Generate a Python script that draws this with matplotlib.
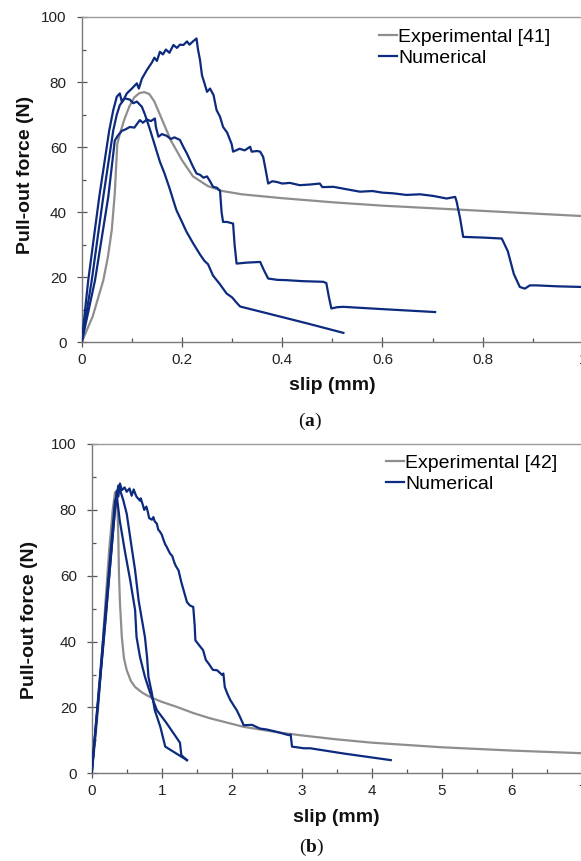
import numpy as np
import matplotlib
matplotlib.use("Agg")
import matplotlib.pyplot as plt
from matplotlib.ticker import MultipleLocator

plt.rcParams['font.family'] = ['Liberation Sans', 'DejaVu Sans']
plt.rcParams['mathtext.fontset'] = 'custom'
plt.rcParams['mathtext.rm'] = 'Liberation Serif'
plt.rcParams['mathtext.bf'] = 'Liberation Serif:bold'

# ---------------- Panel (a) data: slip (mm), force (N) ----------------
a_exp_label = "Experimental [41]"
a_exp = [(0, 0), (0.022, 8), (0.043, 19), (0.052, 26), (0.060, 34.5), (0.066, 45.8),
         (0.069, 55), (0.071, 61), (0.076, 64), (0.085, 68.5), (0.095, 72.5),
         (0.105, 75.3), (0.115, 76.6), (0.125, 76.9), (0.135, 76.3), (0.145, 74),
         (0.156, 70), (0.178, 62), (0.200, 56), (0.222, 51), (0.252, 48),
         (0.281, 46.5), (0.319, 45.5), (0.400, 44.3), (0.504, 43), (0.600, 42),
         (0.726, 41), (0.874, 39.8), (1.0, 38.8)]

a_num1 = [(0, 0), (0.013, 19), (0.035, 44.7), (0.055, 65.2), (0.063, 71.4), (0.070, 75.5),
          (0.076, 76.5), (0.080, 74), (0.085, 75), (0.090, 76.5), (0.100, 78),
          (0.110, 79.6), (0.114, 78), (0.120, 81), (0.130, 83.7), (0.140, 86),
          (0.145, 87.5), (0.150, 86.5), (0.156, 89.3), (0.162, 88.5), (0.168, 90),
          (0.175, 89), (0.183, 91.4), (0.190, 90.5), (0.196, 91.5), (0.203, 91.4),
          (0.210, 92.5), (0.215, 91.5), (0.222, 92.5), (0.229, 93.4), (0.232, 90),
          (0.236, 86.8), (0.240, 82), (0.243, 80.6), (0.250, 77), (0.256, 78),
          (0.263, 76), (0.269, 71.4), (0.276, 69.3), (0.282, 66.2), (0.290, 64.5),
          (0.299, 61), (0.302, 58.6), (0.315, 59.5), (0.325, 59), (0.336, 60.1),
          (0.339, 58.6), (0.350, 58.8), (0.356, 58.6), (0.362, 57), (0.367, 53),
          (0.372, 48.8), (0.380, 49.5), (0.389, 49.3), (0.400, 48.8), (0.415, 49),
          (0.435, 48.3), (0.455, 48.5), (0.475, 48.8), (0.480, 47.7), (0.502, 47.8),
          (0.530, 47), (0.555, 46.3), (0.580, 46.5), (0.600, 46), (0.621, 45.8),
          (0.648, 45.3), (0.675, 45.5), (0.701, 45), (0.728, 44.2), (0.745, 44.7),
          (0.748, 43.2), (0.755, 38), (0.761, 32.4), (0.800, 32.2), (0.838, 31.9),
          (0.850, 28), (0.862, 21), (0.874, 17), (0.884, 16.5), (0.894, 17.5),
          (0.907, 17.5), (0.950, 17.2), (1.0, 17)]

a_num2 = [(0, 0), (0.0265, 19), (0.053, 44.7), (0.066, 62), (0.072, 63.5), (0.080, 65),
          (0.088, 65.5), (0.096, 66.2), (0.105, 66), (0.116, 68.3), (0.122, 67.5),
          (0.130, 68.5), (0.138, 68), (0.146, 68.8), (0.148, 66.2), (0.153, 63.2),
          (0.160, 64), (0.169, 63.5), (0.178, 62.5), (0.185, 63), (0.196, 62.2),
          (0.203, 60), (0.210, 58), (0.216, 56), (0.222, 54), (0.229, 51.9),
          (0.236, 51.5), (0.243, 50.6), (0.250, 51), (0.256, 49.5), (0.262, 47.8),
          (0.270, 47.5), (0.276, 46.5), (0.279, 40), (0.282, 37), (0.290, 37),
          (0.302, 36.5), (0.305, 30), (0.309, 24.2), (0.330, 24.5), (0.356, 24.7),
          (0.364, 22), (0.372, 19.6), (0.390, 19.2), (0.409, 19.1), (0.440, 18.8),
          (0.482, 18.6), (0.488, 18.2), (0.493, 14), (0.498, 10.4), (0.510, 10.8),
          (0.522, 10.9), (0.600, 10.2), (0.705, 9.3)]

a_num3 = [(0, 0), (0.020, 19), (0.043, 44.7), (0.063, 65.2), (0.070, 70), (0.076, 72.9),
          (0.086, 75), (0.096, 74.6), (0.103, 73.5), (0.110, 74), (0.120, 72.4),
          (0.125, 70.5), (0.130, 68.3), (0.136, 65.5), (0.143, 62), (0.150, 58.5),
          (0.156, 55.5), (0.165, 52), (0.176, 47), (0.183, 43.5), (0.189, 40.6),
          (0.200, 37), (0.209, 34), (0.222, 30.5), (0.236, 27), (0.245, 25),
          (0.252, 24), (0.262, 20.5), (0.275, 18), (0.289, 15), (0.300, 13.8),
          (0.310, 12), (0.316, 11), (0.360, 9.3), (0.450, 5.8), (0.522, 2.9)]

# ---------------- Panel (b) data ----------------
b_exp_label = "Experimental [42]"
b_exp = [(0, 0), (0.05, 10), (0.10, 22), (0.15, 37), (0.20, 53), (0.25, 68), (0.30, 80),
         (0.333, 85.3), (0.355, 84), (0.37, 79), (0.38, 71.7), (0.39, 60), (0.404, 51.5),
         (0.43, 41.4), (0.46, 35), (0.50, 31.3), (0.56, 28), (0.62, 26.2), (0.72, 24.5),
         (0.83, 23.2), (1.0, 21.7), (1.21, 20.2), (1.45, 18.3), (1.69, 16.7),
         (2.17, 14.1), (2.64, 12.5), (3.0, 11.5), (3.5, 10.3), (4.0, 9.3), (5.0, 7.9),
         (6.0, 6.9), (7.0, 6.1)]

b_num1 = [(0, 0), (0.20, 48), (0.357, 85.8), (0.38, 84), (0.404, 88), (0.43, 86),
          (0.47, 86.8), (0.50, 85.5), (0.54, 86.5), (0.57, 84.3), (0.60, 86.2),
          (0.62, 85), (0.64, 84), (0.66, 83.5), (0.69, 82.8), (0.70, 83.5),
          (0.73, 81.5), (0.75, 80), (0.78, 81), (0.80, 79.5), (0.82, 77.5),
          (0.86, 77), (0.88, 77.8), (0.90, 76.5), (0.93, 75.8), (0.95, 74),
          (0.97, 73.5), (1.00, 72.5), (1.02, 71.2), (1.05, 69.5), (1.07, 68.8),
          (1.10, 67.5), (1.12, 66.7), (1.15, 66), (1.18, 64), (1.20, 63),
          (1.24, 61.6), (1.28, 58), (1.32, 55), (1.36, 52), (1.40, 51), (1.45, 50.5),
          (1.47, 45), (1.48, 40.4), (1.53, 39), (1.59, 37.4), (1.63, 34.4), (1.67, 33.3),
          (1.73, 31.4), (1.79, 31.3), (1.86, 29.9), (1.88, 30.3), (1.90, 26.2),
          (1.94, 24), (1.98, 22.2), (2.03, 20.5), (2.07, 19.2), (2.12, 17),
          (2.17, 14.6), (2.29, 14.7), (2.40, 13.6), (2.50, 13.3), (2.64, 12.6),
          (2.76, 11.9), (2.81, 11.6), (2.84, 11.8), (2.86, 8.1), (3.03, 7.6),
          (3.12, 7.6), (3.60, 6), (4.27, 4.0)]

b_num2 = [(0, 0), (0.20, 47), (0.33, 80), (0.38, 87.4), (0.42, 85), (0.45, 83),
          (0.50, 78.8), (0.57, 68.7), (0.62, 61.6), (0.67, 52.5), (0.71, 47.5),
          (0.76, 41.4), (0.79, 35.3), (0.81, 29.3), (0.86, 24.2), (0.90, 19.2),
          (0.98, 14.1), (1.05, 8.1), (1.36, 4.0)]

b_num3 = [(0, 0), (0.20, 50), (0.333, 82.8), (0.36, 84), (0.40, 76.8), (0.48, 66.7),
          (0.55, 58.6), (0.62, 49.5), (0.64, 41.4), (0.69, 35.3), (0.76, 29.3),
          (0.83, 24.7), (0.93, 19.2), (1.07, 15.2), (1.26, 9.3), (1.28, 5.5),
          (1.36, 4.0)]

num_label = "Numerical"
x_label = "slip (mm)"
y_label = "Pull-out force (N)"

GRAY = '#8e8e8e'
BLUE = '#0c2a7e'
W, H = 581, 861

fig = plt.figure(figsize=(W / 100, H / 100), dpi=100)


def px_axes(l, r, t, b):
    return fig.add_axes([l / W, 1 - b / H, (r - l) / W, (b - t) / H])


def style(ax, xmaj, xmin, xlim):
    ax.set_xlim(*xlim)
    ax.set_ylim(0, 100)
    ax.xaxis.set_major_locator(MultipleLocator(xmaj))
    ax.xaxis.set_minor_locator(MultipleLocator(xmin))
    ax.yaxis.set_major_locator(MultipleLocator(20))
    ax.yaxis.set_minor_locator(MultipleLocator(10))
    for s in ['left', 'bottom']:
        ax.spines[s].set_color('#7a7a7a')
        ax.spines[s].set_linewidth(1.0)
    ax.spines['top'].set_color('#9a9a9a')
    ax.spines['top'].set_linewidth(1.0)
    ax.spines['right'].set_visible(False)
    ax.tick_params(which='major', direction='inout', length=6.5, width=0.9,
                   color='#555555', labelsize=11, labelcolor='#222222')
    ax.tick_params(which='minor', direction='in', length=3.2, width=0.9,
                   color='#555555')
    ax.tick_params(axis='y', which='major', pad=7.5)
    ax.tick_params(axis='x', which='major', pad=4.5)
    ax.tick_params(top=False, right=False, which='both')


def draw(ax, exp, nums, exp_label):
    e = np.array(exp)
    ax.plot(e[:, 0], e[:, 1], color=GRAY, lw=1.6, label=exp_label, zorder=2,
            solid_joinstyle='round')
    for i, n in enumerate(nums):
        d = np.array(n)
        ax.plot(d[:, 0], d[:, 1], color=BLUE, lw=1.6, zorder=3,
                label=num_label if i == 0 else None, solid_joinstyle='round')


# Panel (a)
ax1 = px_axes(81.7, 583, 17, 342.3)
style(ax1, 0.2, 0.1, (0, 1))
draw(ax1, a_exp, [a_num1, a_num2, a_num3], a_exp_label)
ax1.xaxis.set_major_formatter(matplotlib.ticker.FuncFormatter(
    lambda v, p: f"{v:g}"))
leg1 = ax1.legend(loc='upper left', bbox_to_anchor=(379 / W, 1 - 28 / H),
                  bbox_transform=fig.transFigure, frameon=False, fontsize=14,
                  handlelength=0.9, handletextpad=0.1, borderpad=0,
                  borderaxespad=0, labelspacing=0.17)

# Panel (b)
ax2 = px_axes(91.7, 582, 444, 773.3)
style(ax2, 1, 0.5, (0, 7))
draw(ax2, b_exp, [b_num1, b_num2, b_num3], b_exp_label)
leg2 = ax2.legend(loc='upper left', bbox_to_anchor=(386 / W, 1 - 454 / H),
                  bbox_transform=fig.transFigure, frameon=False, fontsize=14,
                  handlelength=0.9, handletextpad=0.1, borderpad=0,
                  borderaxespad=0, labelspacing=0.17)

# axis labels
fig.text(26 / W, 1 - 175 / H, y_label, rotation=90, ha='center', va='center',
         fontsize=14, fontweight='bold', color='#111111')
fig.text(332 / W, 1 - 386 / H, x_label, ha='center', va='center',
         fontsize=14, fontweight='bold', color='#111111')
fig.text(30 / W, 1 - 620 / H, y_label, rotation=90, ha='center', va='center',
         fontsize=14, fontweight='bold', color='#111111')
fig.text(336 / W, 1 - 818 / H, x_label, ha='center', va='center',
         fontsize=14, fontweight='bold', color='#111111')

# panel tags
fig.text(310 / W, 1 - 421 / H, r"($\mathbf{a}$)", ha='center', va='center',
         fontsize=14, family='Liberation Serif', color='#111111')
fig.text(312 / W, 1 - 847 / H, r"($\mathbf{b}$)", ha='center', va='center',
         fontsize=14, family='Liberation Serif', color='#111111')

fig.savefig("out.png", dpi=100)
